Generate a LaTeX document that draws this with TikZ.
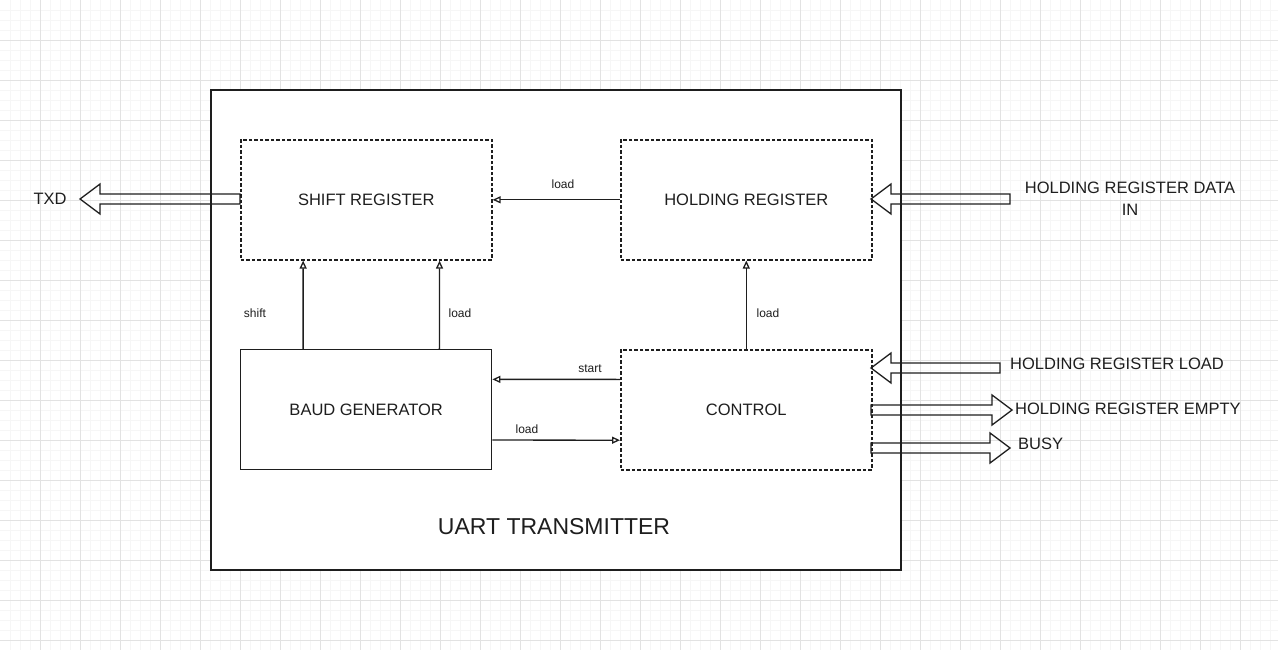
\documentclass[tikz,border=0pt]{standalone}
\usepackage{fontspec}
\setmainfont{Liberation Sans}
\usetikzlibrary{arrows.meta,calc}
\definecolor{ink}{HTML}{1E1E1E}
\definecolor{minorg}{HTML}{F6F6F6}
\definecolor{majorg}{HTML}{E2E2E2}
\newcommand{\fatarrow}[3]{% #1 tail x, #2 tip x, #3 y
  \pgfmathsetmacro\fadir{(#2>#1)?1:-1}%
  \pgfmathsetmacro\fahb{#2-20*\fadir}%
  \draw[fatarr] (#1,#3-5) -- (\fahb,#3-5) -- (\fahb,#3-15) -- (#2,#3)
     -- (\fahb,#3+15) -- (\fahb,#3+5) -- (#1,#3+5) -- cycle;}
\begin{document}
\begin{tikzpicture}[x=1pt,y=-1pt,
  minorgrid/.style={draw=minorg,line width=0.6pt},
  majorgrid/.style={draw=majorg,line width=0.8pt},
  outerbox/.style={draw=ink,fill=white,line width=1.6pt,anchor=north west,
     minimum width=690pt,minimum height=480pt,inner sep=0pt},
  block/.style={draw=ink,fill=white,line width=1.4pt,anchor=north west,
     minimum width=251pt,minimum height=120pt,inner sep=0pt,
     font=\fontsize{16.5}{20}\selectfont,text=ink},
  dblock/.style={block,line width=1.6pt,dash pattern=on 3.5pt off 2pt},
  sig/.style={draw=ink,line width=1.3pt,-{Triangle[open,length=8pt,width=7pt]}},
  sigl/.style={text=ink,font=\fontsize{12}{14}\selectfont,inner sep=0pt},
  extl/.style={text=ink,font=\fontsize{16.5}{22}\selectfont,inner sep=0pt},
  fatarr/.style={draw=ink,line width=1.3pt,line join=miter}]
\useasboundingbox (0,0) rectangle (1278,650);
\fill[white] (0,0) rectangle (1278,650);
\foreach \x in {10,20,...,1270} \draw[minorgrid] (\x,0) -- (\x,650);
\foreach \y in {10,20,...,640} \draw[minorgrid] (0,\y) -- (1278,\y);
\foreach \x in {40,80,...,1240} \draw[majorgrid] (\x,0) -- (\x,650);
\foreach \y in {40,80,...,640} \draw[majorgrid] (0,\y) -- (1278,\y);

\node[outerbox] (uart) at (210,89) {};
\node[text=ink,font=\fontsize{23}{26}\selectfont] (title) at (554,527) {UART TRANSMITTER};

\node[dblock] (shift) at (240,139) {SHIFT REGISTER};
\node[dblock] (holding) at (620,139) {HOLDING REGISTER};
\node[block] (baud) at (240,349) {BAUD GENERATOR};
\node[dblock] (control) at (620,349) {CONTROL};

% internal signals
\draw[sig] (holding.west) -- (shift.east);
\node[sigl] (lload1) at (563,184) {load};
\draw[sig] ($(baud.north west)!0.25!(baud.north east)$) -- ($(shift.south west)!0.25!(shift.south east)$);
\node[sigl] (lshift) at (255,313) {shift};
\draw[sig] ($(baud.north west)!0.79!(baud.north east)$) -- ($(shift.south west)!0.79!(shift.south east)$);
\node[sigl] (lload2) at (460,313) {load};
\draw[sig] (control.north) -- (holding.south);
\node[sigl] (lload3) at (768,313) {load};
\draw[sig] ($(control.north west)!0.25!(control.south west)$) -- ($(baud.north east)!0.25!(baud.south east)$);
\node[sigl] (lstart) at (590,369) {start};
\draw[sig] ($(baud.north east)!0.75!(baud.south east)$) -- ($(control.north west)!0.75!(control.south west)$);
\node[sigl] (lload4) at (527,429) {load};

% external ports
\fatarrow{240}{80}{199}
\node[extl] (txd) at (50,199) {TXD};
\fatarrow{1010}{871}{199}
\node[extl,align=center] (hrdi) at (1130,199) {HOLDING REGISTER DATA\\IN};
\fatarrow{1000}{871}{368}
\node[extl,anchor=west] (hrl) at (1010,364) {HOLDING REGISTER LOAD};
\fatarrow{871}{1012}{410}
\node[extl,anchor=west] (hre) at (1015,409) {HOLDING REGISTER EMPTY};
\fatarrow{871}{1010}{448}
\node[extl,anchor=west] (busy) at (1018,444) {BUSY};
\end{tikzpicture}
\end{document}
